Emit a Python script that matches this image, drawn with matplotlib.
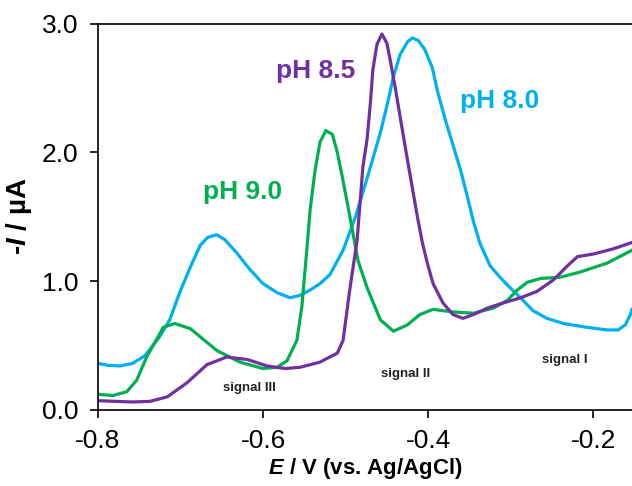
import matplotlib.pyplot as plt

plt.rcParams['font.family'] = ['Liberation Sans', 'DejaVu Sans']
plt.rcParams['mathtext.fontset'] = 'custom'
plt.rcParams['mathtext.bfit'] = 'Liberation Sans:italic:bold'
plt.rcParams['mathtext.it'] = 'Liberation Sans:italic'
plt.rcParams['mathtext.bf'] = 'Liberation Sans:bold'

# pH 8.0
e_80 = [-0.800, -0.788, -0.773, -0.758, -0.743, -0.725, -0.713, -0.701, -0.688, -0.676,
        -0.667, -0.656, -0.646, -0.632, -0.616, -0.600, -0.583, -0.567, -0.555, -0.543,
        -0.531, -0.519, -0.503, -0.488, -0.473, -0.458, -0.450, -0.442, -0.434, -0.425,
        -0.419, -0.412, -0.404, -0.395, -0.388, -0.379, -0.370, -0.361, -0.353, -0.345,
        -0.337, -0.325, -0.313, -0.301, -0.288, -0.273, -0.256, -0.236, -0.207, -0.183,
        -0.170, -0.161, -0.155, -0.153]
i_80 = [0.36, 0.345, 0.34, 0.36, 0.42, 0.57, 0.70, 0.91, 1.11, 1.28,
        1.34, 1.36, 1.32, 1.22, 1.09, 0.98, 0.91, 0.87, 0.89, 0.93,
        0.98, 1.05, 1.24, 1.50, 1.82, 2.15, 2.36, 2.59, 2.76, 2.86,
        2.89, 2.87, 2.80, 2.66, 2.46, 2.25, 2.06, 1.87, 1.67, 1.46,
        1.29, 1.12, 1.03, 0.95, 0.87, 0.77, 0.71, 0.67, 0.64, 0.62,
        0.62, 0.66, 0.74, 0.78]

# pH 8.5
e_85 = [-0.800, -0.758, -0.737, -0.716, -0.692, -0.668, -0.644, -0.619, -0.595, -0.573,
        -0.555, -0.531, -0.510, -0.503, -0.495, -0.486, -0.479, -0.474, -0.470, -0.467,
        -0.462, -0.456, -0.450, -0.446, -0.440, -0.434, -0.425, -0.413, -0.407, -0.401,
        -0.394, -0.382, -0.370, -0.358, -0.345, -0.328, -0.309, -0.288, -0.268, -0.248,
        -0.231, -0.219, -0.200, -0.176, -0.153]
i_85 = [0.07, 0.06, 0.065, 0.10, 0.21, 0.35, 0.41, 0.39, 0.34, 0.32,
        0.33, 0.37, 0.44, 0.54, 0.93, 1.32, 1.89, 2.10, 2.38, 2.64,
        2.84, 2.92, 2.85, 2.72, 2.51, 2.28, 1.94, 1.50, 1.30, 1.14,
        0.98, 0.83, 0.74, 0.71, 0.74, 0.79, 0.83, 0.87, 0.92, 1.01,
        1.12, 1.19, 1.21, 1.25, 1.30]

# pH 9.0
e_90 = [-0.800, -0.782, -0.765, -0.753, -0.741, -0.725, -0.721, -0.707, -0.688, -0.656,
        -0.628, -0.600, -0.583, -0.571, -0.559, -0.553, -0.547, -0.543, -0.537, -0.531,
        -0.524, -0.516, -0.510, -0.504, -0.498, -0.491, -0.485, -0.474, -0.458, -0.442,
        -0.425, -0.410, -0.394, -0.370, -0.345, -0.321, -0.304, -0.292, -0.280, -0.264,
        -0.240, -0.216, -0.183, -0.153]
i_90 = [0.12, 0.11, 0.14, 0.23, 0.41, 0.59, 0.64, 0.67, 0.63, 0.46,
        0.37, 0.32, 0.33, 0.38, 0.54, 0.80, 1.24, 1.55, 1.86, 2.08,
        2.17, 2.14, 2.00, 1.81, 1.61, 1.37, 1.16, 0.95, 0.70, 0.61,
        0.66, 0.74, 0.78, 0.76, 0.75, 0.79, 0.85, 0.93, 0.99, 1.02,
        1.03, 1.07, 1.14, 1.24]

blue = '#00B0F0'
purple = '#7030A0'
green = '#00B050'

fig = plt.figure(figsize=(6.32, 4.86), dpi=100)
ax = fig.add_axes([0.155, 0.157, 0.845, 0.794])

ax.plot(e_80, i_80, color=blue, lw=2.3, solid_joinstyle='round')
ax.plot(e_90, i_90, color=green, lw=2.3, solid_joinstyle='round')
ax.plot(e_85, i_85, color=purple, lw=2.3, solid_joinstyle='round')

ax.set_xlim(-0.8, -0.153)
ax.set_ylim(0, 3.0)
ax.set_xticks([-0.8, -0.6, -0.4, -0.2])
ax.set_xticklabels(['-0.8', '-0.6', '-0.4', '-0.2'])
ax.set_yticks([0, 1, 2, 3])
ax.set_yticklabels(['0.0', '1.0', '2.0', '3.0'])
ax.tick_params(direction='out', length=6, width=1.2, labelsize=19, pad=8)
ax.spines['right'].set_visible(False)
for s in ['left', 'bottom', 'top']:
    ax.spines[s].set_linewidth(1.2)

ax.set_xlabel(r'$\mathbfit{E}$ / V (vs. Ag/AgCl)', fontsize=16, fontweight='bold', labelpad=2)
ax.set_ylabel(r'-$\mathbfit{I}$ / µA', fontsize=20, fontweight='bold')
ax.yaxis.set_label_coords(-0.12, 0.5)

ax.text(-0.536, 2.63, 'pH 8.5', color=purple, fontsize=19, fontweight='bold', ha='center', va='center')
ax.text(-0.313, 2.40, 'pH 8.0', color=blue, fontsize=19, fontweight='bold', ha='center', va='center')
ax.text(-0.625, 1.69, 'pH 9.0', color=green, fontsize=19, fontweight='bold', ha='center', va='center')

ax.text(-0.616, 0.17, 'signal III', color='#222222', fontsize=9.5, fontweight='bold', ha='center', va='center')
ax.text(-0.427, 0.28, 'signal II', color='#222222', fontsize=9.5, fontweight='bold', ha='center', va='center')
ax.text(-0.234, 0.385, 'signal I', color='#222222', fontsize=9.5, fontweight='bold', ha='center', va='center')

fig.savefig('out.png', dpi=100)
